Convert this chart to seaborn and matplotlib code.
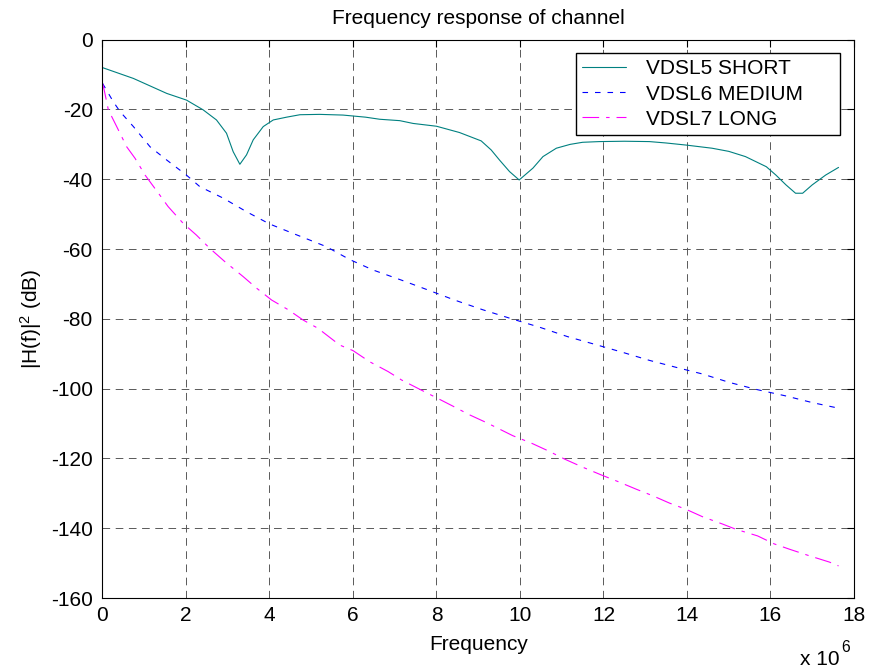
import numpy as np
import pandas as pd
import matplotlib
matplotlib.use("Agg")
import matplotlib.pyplot as plt
import seaborn as sns
from matplotlib.ticker import FuncFormatter

# ---------------- data (frequency in MHz, response in dB) ----------------
short_mhz = [0, 0.74, 1.54, 2.01, 2.41, 2.73, 2.97, 3.13, 3.29, 3.45, 3.61, 3.85,
             4.09, 4.41, 4.73, 5.2, 5.76, 6.3, 6.64, 7.12, 7.44, 8.0, 8.55, 9.07,
             9.31, 9.51, 9.75, 9.98, 10.31, 10.55, 10.87, 11.2, 11.5, 11.9, 12.5,
             13.1, 13.5, 13.98, 14.6, 15.0, 15.4, 15.9, 16.13, 16.37, 16.6, 16.77,
             17.0, 17.32, 17.63]
short_db = [-8.0, -11.1, -15.4, -17.3, -20.1, -23.0, -26.8, -32.1, -35.7, -33.0,
            -28.7, -24.9, -23.0, -22.2, -21.5, -21.4, -21.6, -22.2, -22.8, -23.2,
            -24.0, -24.8, -26.6, -29.0, -31.6, -34.5, -37.8, -40.2, -36.8, -33.5,
            -31.1, -30.0, -29.4, -29.2, -29.1, -29.2, -29.6, -30.2, -31.1, -32.0,
            -33.5, -36.4, -38.8, -41.6, -44.0, -44.0, -41.6, -38.8, -36.6]

medium_mhz = [0, 0.26, 0.42, 0.74, 1.14, 1.54, 2.01, 2.33, 2.89, 3.45, 4.0, 4.56,
              5.36, 5.92, 6.48, 7.16, 7.79, 8.43, 9.11, 9.83, 10.47, 11.14, 11.82,
              12.46, 13.1, 13.74, 14.37, 15.01, 15.65, 16.37, 17.0, 17.63]
medium_db = [-12.5, -17.8, -20.6, -24.9, -30.7, -34.5, -38.8, -42.1, -45.4, -49.3,
             -52.8, -55.5, -59.3, -63.0, -66.0, -68.9, -71.7, -74.6, -77.4, -80.1,
             -82.4, -85.1, -87.4, -89.6, -91.9, -93.9, -95.8, -98.2, -100.2, -102.1,
             -104.0, -105.6]

long_mhz = [0, 0.04, 0.14, 0.34, 0.58, 0.78, 1.02, 1.34, 1.57, 1.93, 2.25, 2.57,
            2.93, 3.37, 3.69, 4.05, 4.45, 4.8, 5.16, 5.68, 6.0, 6.4, 6.84, 7.16,
            7.6, 8.03, 8.39, 8.79, 9.19, 9.83, 10.27, 10.67, 11.07, 11.5, 11.94,
            12.34, 12.78, 13.18, 13.58, 13.98, 14.37, 14.85, 15.17, 15.69, 16.09,
            16.45, 16.93, 17.41, 17.63]
long_db = [-12.5, -14.4, -20.1, -24.9, -30.7, -34.0, -38.8, -44.0, -47.8, -52.6,
           -56.0, -59.8, -63.6, -67.9, -71.2, -74.6, -77.4, -80.3, -82.7, -87.5,
           -89.1, -92.3, -95.1, -97.5, -100.2, -102.8, -105.0, -107.5, -109.7,
           -113.5, -115.6, -117.8, -120.2, -122.5, -124.7, -126.6, -128.8, -130.7,
           -132.8, -134.6, -136.7, -138.8, -140.3, -142.2, -144.5, -146.0, -147.9,
           -149.7, -150.8]

series_names = ["VDSL5 SHORT", "VDSL6 MEDIUM", "VDSL7 LONG"]
x_ticks = [0, 2, 4, 6, 8, 10, 12, 14, 16, 18]
y_ticks = [0, -20, -40, -60, -80, -100, -120, -140, -160]

frames = []
for name, fx, fy in zip(series_names, [short_mhz, medium_mhz, long_mhz],
                        [short_db, medium_db, long_db]):
    frames.append(pd.DataFrame({"Frequency": np.array(fx) * 1e6,
                                "dB": fy, "series": name}))
df = pd.concat(frames, ignore_index=True)

# ---------------- style ----------------
sns.set_theme(style="white")
plt.rcParams["font.family"] = ["Liberation Sans", "DejaVu Sans"]
plt.rcParams["mathtext.fontset"] = "custom"
plt.rcParams["mathtext.rm"] = "Liberation Sans"
plt.rcParams["mathtext.it"] = "Liberation Sans"
plt.rcParams["lines.scale_dashes"] = False
plt.rcParams["axes.unicode_minus"] = False
plt.rcParams["text.color"] = "black"
plt.rcParams["axes.labelcolor"] = "black"
FS = 15

fig = plt.figure(figsize=(8.7, 6.71), dpi=100)
ax = fig.add_axes([102.5 / 870, 1 - 598 / 671, (854 - 102.5) / 870, (598 - 39.7) / 671])

palette = {"VDSL5 SHORT": "#008080", "VDSL6 MEDIUM": "#0000FF", "VDSL7 LONG": "#FF00FF"}
dashes = {"VDSL5 SHORT": "", "VDSL6 MEDIUM": (4.0, 5.0), "VDSL7 LONG": (12, 5, 2.5, 5)}

sns.lineplot(data=df, x="Frequency", y="dB", hue="series", style="series",
             hue_order=series_names, style_order=series_names,
             palette=palette, dashes=dashes, linewidth=0.8, ax=ax,
             estimator=None, sort=False, legend=False)

ax.set_xlim(0, 18e6)
ax.set_ylim(-160, 0)
ax.set_xticks([v * 1e6 for v in x_ticks])
ax.xaxis.set_major_formatter(FuncFormatter(lambda v, p: f"{v / 1e6:g}"))
ax.set_yticks(y_ticks)

ax.grid(True, color="0.35", linestyle=(0, (5.5, 4)), linewidth=0.7)
for s in ax.spines.values():
    s.set_color("black")
    s.set_linewidth(0.8)
    s.set_visible(True)
ax.tick_params(direction="in", top=True, right=True, length=5, width=0.8,
               colors="black", labelsize=FS)
ax.tick_params(axis="y", pad=7)
ax.tick_params(axis="x", pad=6)

ax.set_title("Frequency response of channel", fontsize=FS, color="black", pad=11)
ax.set_xlabel("Frequency", fontsize=FS, color="black")
ax.set_ylabel(r"|H(f)|$^{2}$ (dB)", fontsize=FS, color="black")
ax.xaxis.set_label_coords(0.5, -0.066)
ax.yaxis.set_label_coords(-0.078, 0.5)

lines = ax.get_lines()[:3]
leg_x0 = (576 - 102.5) / 751.5
leg_x1 = (840 - 102.5) / 751.5
leg_top = (598 - 53) / 558.3
leg_bot = (598 - 136) / 558.3
leg = ax.legend(lines, series_names, loc="upper left",
                bbox_to_anchor=(leg_x0, leg_bot, leg_x1 - leg_x0, leg_top - leg_bot),
                mode="expand", fontsize=FS, frameon=True, fancybox=False,
                framealpha=1, edgecolor="black", handlelength=2.1,
                handletextpad=0.95, labelspacing=0.3, borderpad=0.3,
                borderaxespad=0)
leg.get_frame().set_linewidth(1.0)
for t in leg.get_texts():
    t.set_color("black")

fig.text(800 / 870, 1 - 665 / 671, "x 10", fontsize=FS, ha="left", va="baseline",
         color="black")
fig.text(841 / 870, 1 - 652 / 671, "6", fontsize=FS * 0.75, ha="left", va="baseline",
         color="black")

fig.savefig("out.png", dpi=100, facecolor="white")
